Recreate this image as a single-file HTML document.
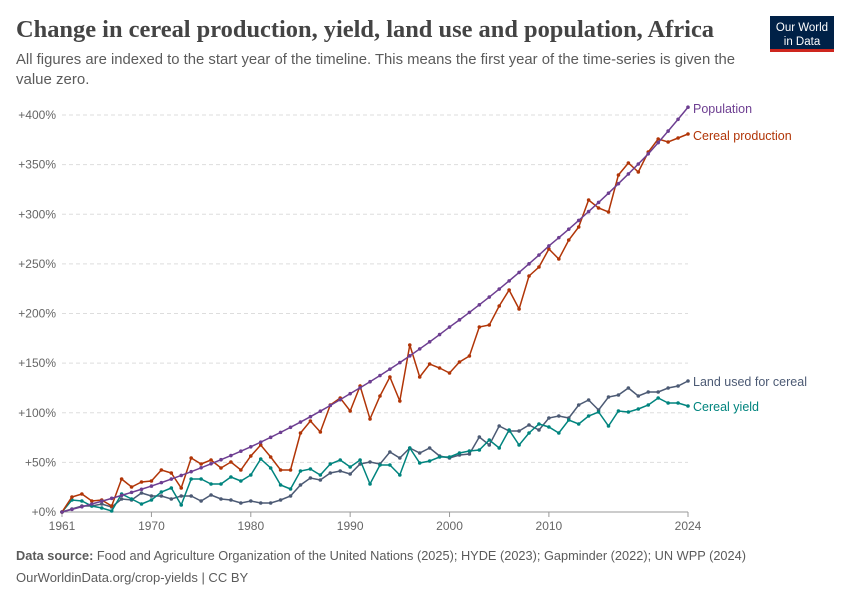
<!DOCTYPE html>
<html><head><meta charset="utf-8"><style>
body{margin:0;background:#fff;}
svg{display:block;font-family:"Liberation Sans",sans-serif;}
</style></head><body>
<svg id="s" width="850" height="600" xmlns="http://www.w3.org/2000/svg">
<text x="16" y="37" font-family="Liberation Serif" font-weight="bold" font-size="24" fill="#444" textLength="698" lengthAdjust="spacingAndGlyphs">Change in cereal production, yield, land use and population, Africa</text>
<text x="16" y="64" font-size="15" fill="#5b5b5b" textLength="719" lengthAdjust="spacingAndGlyphs">All figures are indexed to the start year of the timeline. This means the first year of the time-series is given the</text>
<text x="16" y="84" font-size="15" fill="#5b5b5b">value zero.</text>
<rect x="770" y="16" width="64" height="36" fill="#002147"/>
<rect x="770" y="49" width="64" height="3" fill="#ce261e"/>
<text x="802" y="31" font-size="11.5" fill="#fff" text-anchor="middle">Our World</text>
<text x="802" y="45" font-size="11.5" fill="#fff" text-anchor="middle">in Data</text>
<g id="grid"></g>
<g id="series"></g>
<text x="693" y="113" font-size="12.5" fill="#6d3e91">Population</text>
<text x="693" y="140" font-size="12.5" fill="#b13507">Cereal production</text>
<text x="693" y="386" font-size="12.5" fill="#4c5a74">Land used for cereal</text>
<text x="693" y="411" font-size="12.5" fill="#00847e">Cereal yield</text>
<text x="16" y="560" font-size="13" fill="#5b5b5b" textLength="730" lengthAdjust="spacingAndGlyphs"><tspan font-weight="bold">Data source:</tspan> Food and Agriculture Organization of the United Nations (2025); HYDE (2023); Gapminder (2022); UN WPP (2024)</text>
<text x="16" y="582" font-size="13" fill="#5b5b5b">OurWorldinData.org/crop-yields | CC BY</text>
</svg>
<script>
var NS="http://www.w3.org/2000/svg";
function el(p,t,a,txt){var e=document.createElementNS(NS,t);for(var k in a)e.setAttribute(k,a[k]);if(txt!=null)e.textContent=txt;p.appendChild(e);return e;}
var g=document.getElementById('grid'),S=document.getElementById('series');
function X(yr){return 62+(yr-1961)*626/63;}
function Y(p){return 512-p*0.9925;}
for(var v=0;v<=400;v+=50){var y=Y(v);
 if(v>0)el(g,'line',{x1:62,x2:688,y1:y,y2:y,stroke:'#ddd','stroke-dasharray':'4,3'});
 el(g,'text',{x:56,y:y+4,'font-size':12,fill:'#666','text-anchor':'end'},'+'+v+'%');}
el(g,'line',{x1:62,x2:688,y1:512,y2:512,stroke:'#999'});
[1961,1970,1980,1990,2000,2010,2024].forEach(function(yr){var x=X(yr);
 el(g,'line',{x1:x,x2:x,y1:512,y2:517,stroke:'#999'});
 el(g,'text',{x:x,y:530,'font-size':12,fill:'#666','text-anchor':'middle'},yr);});
var knots=[[1961,0],[1970,.232],[1980,.505],[1990,.785],[2000,1.052],[2010,1.303],[2020,1.528],[2024,1.625]];
var pop=[];for(var yr=1961;yr<=2024;yr++){for(var i=0;i<knots.length-1;i++){if(yr>=knots[i][0]&&yr<=knots[i+1][0]){var f=(yr-knots[i][0])/(knots[i+1][0]-knots[i][0]);var l=knots[i][1]+f*(knots[i+1][1]-knots[i][1]);pop.push(Y((Math.exp(l)-1)*100));break;}}}
var prod=[512,497,494,501,500,506,479,487,482,481,470,473,488,458,464,460,468,462,470,456,445,457,470,470,433,421,432,405,398,411,386,419,396,377,401,345,377,364,368,373,362,356,327,325,306,290,309,276,267,249,259,240,227,200,208,212,175,163,172,152,139,142,138,134];
var land=[512,509,506,506,504,507,499,500,493,496,496,499,496,496,501,495,499,500,503,501,503,503,500,496,485,478,480,473,471,474,464,462,464,452,458,448,453,448,456,458,455,454,437,445,426,431,431,425,430,418,416,418,405,400,410,397,395,388,396,392,392,388,386,381];
var yld=[512,500,501,506,508,511,494,499,504,500,492,488,505,479,479,484,484,477,481,475,459,468,485,489,471,469,475,464,460,467,460,484,465,465,475,448,463,461,457,457,453,451,450,440,448,430,445,433,424,427,433,420,424,416,412,426,411,412,409,405,398,403,403,406];
function draw(arr,c){var pts=arr.map(function(y,i){return X(1961+i).toFixed(1)+','+y;}).join(' ');
 el(S,'polyline',{points:pts,fill:'none',stroke:c,'stroke-width':1.5});
 arr.forEach(function(y,i){el(S,'circle',{cx:X(1961+i),cy:y,r:1.8,fill:c});});}
draw(land,'#4c5a74');draw(yld,'#00847e');draw(prod,'#b13507');draw(pop,'#6d3e91');
</script>
</body></html>
